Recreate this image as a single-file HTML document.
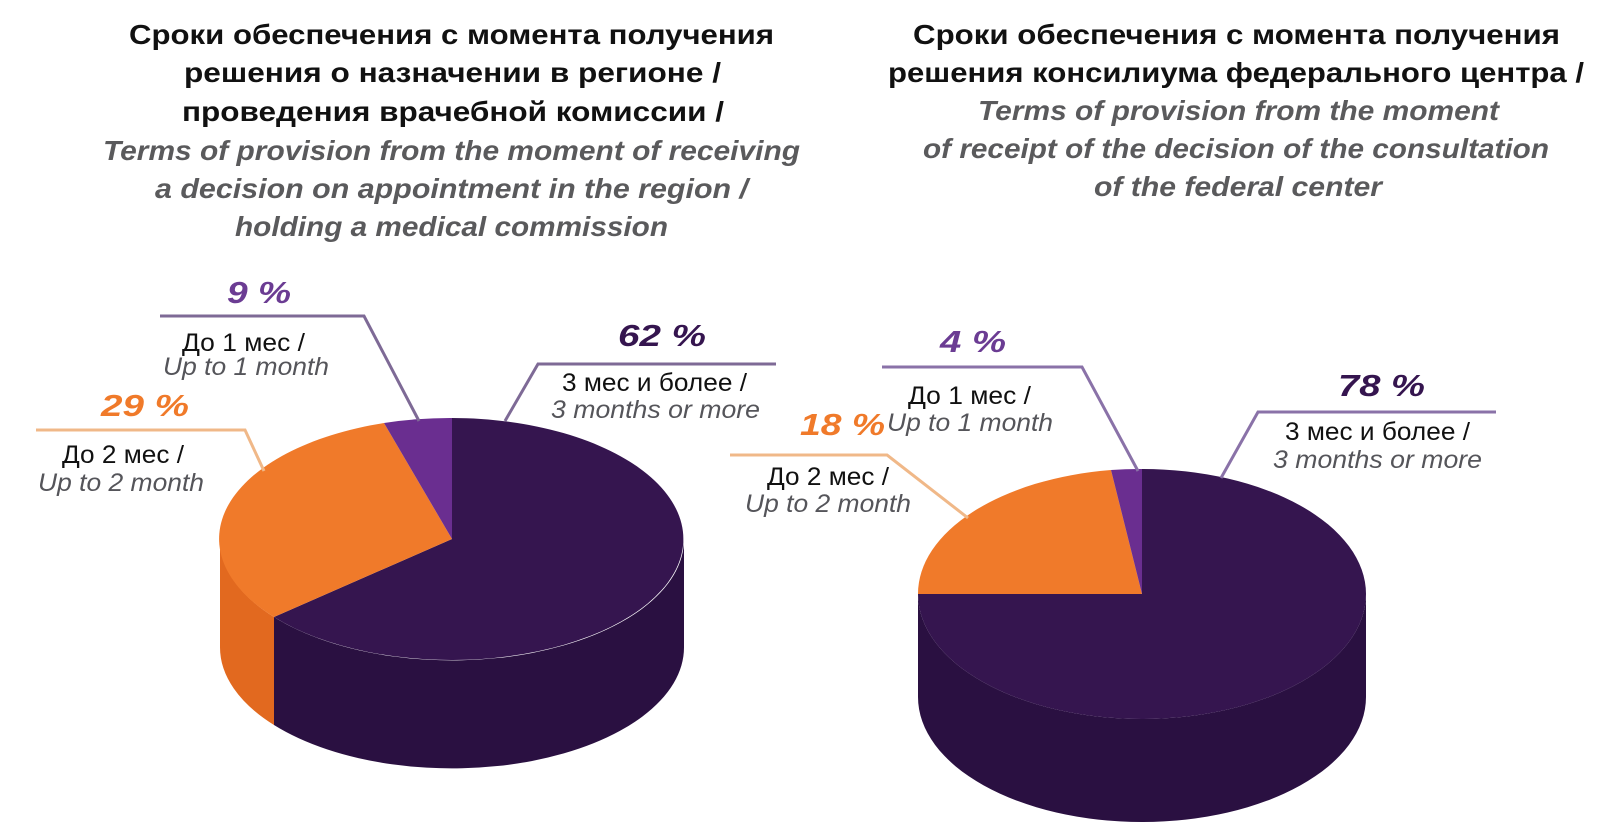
<!DOCTYPE html>
<html><head><meta charset="utf-8"><style>
html,body{margin:0;padding:0;background:#fff;}
svg{display:block;}
.t{font-family:"Liberation Sans","DejaVu Sans",sans-serif;font-weight:bold;font-size:28px;fill:#111;}
.e{font-family:"Liberation Sans","DejaVu Sans",sans-serif;font-weight:bold;font-style:italic;font-size:28px;fill:#5a5a5c;}
.l{font-family:"Liberation Sans","DejaVu Sans",sans-serif;font-size:25px;fill:#111;}
.li{font-family:"Liberation Sans","DejaVu Sans",sans-serif;font-style:italic;font-size:25px;fill:#55555a;}
.p{font-family:"Liberation Sans","DejaVu Sans",sans-serif;font-weight:bold;font-style:italic;font-size:31px;}
</style></head><body>
<svg width="1615" height="824" viewBox="0 0 1615 824" xmlns="http://www.w3.org/2000/svg">
<text class="t" x="129" y="44" textLength="645" lengthAdjust="spacingAndGlyphs">Сроки обеспечения с момента получения</text>
<text class="t" x="184" y="82" textLength="537" lengthAdjust="spacingAndGlyphs">решения о назначении в регионе /</text>
<text class="t" x="182" y="121" textLength="542" lengthAdjust="spacingAndGlyphs">проведения врачебной комиссии /</text>
<text class="e" x="103" y="160" textLength="697" lengthAdjust="spacingAndGlyphs">Terms of provision from the moment of receiving</text>
<text class="e" x="155" y="198" textLength="593" lengthAdjust="spacingAndGlyphs">a decision on appointment in the region /</text>
<text class="e" x="235" y="236" textLength="433" lengthAdjust="spacingAndGlyphs">holding a medical commission</text>
<text class="t" x="913" y="44" textLength="647" lengthAdjust="spacingAndGlyphs">Сроки обеспечения с момента получения</text>
<text class="t" x="888" y="82" textLength="696" lengthAdjust="spacingAndGlyphs">решения консилиума федерального центра /</text>
<text class="e" x="978" y="120" textLength="521" lengthAdjust="spacingAndGlyphs">Terms of provision from the moment</text>
<text class="e" x="923" y="158" textLength="626" lengthAdjust="spacingAndGlyphs">of receipt of the decision of the consultation</text>
<text class="e" x="1094" y="196" textLength="288" lengthAdjust="spacingAndGlyphs">of the federal center</text>

<!-- Left pie -->
<path d="M684,539 A232,121 0 0 1 274,617 L274,725 A232,121 0 0 0 684,647 Z" fill="#2a1041"/>
<path d="M274,617 A232,121 0 0 1 220,539 L220,647 A232,121 0 0 0 274,725 Z" fill="#e2691f"/>
<path d="M452,539 L452,418 A232,121 0 1 1 274,617 Z" fill="#35154f"/>
<path d="M452,539 L274,617 A232,121 0 0 1 384,423 Z" fill="#f07a2a"/>
<path d="M452,539 L384,423 A232,121 0 0 1 452,418 Z" fill="#6a2e90"/>

<!-- Right pie -->
<path d="M1366,594 A224,125 0 0 1 918,594 L918,697 A224,125 0 0 0 1366,697 Z" fill="#2a1041"/>
<path d="M1142,594 L1142,469 A224,125 0 1 1 918,594 Z" fill="#35154f"/>
<path d="M1142,594 L918,594 A224,125 0 0 1 1111,470 Z" fill="#f07a2a"/>
<path d="M1142,594 L1111,470 A224,125 0 0 1 1142,469 Z" fill="#6a2e90"/>

<!-- Left labels -->
<polyline points="160,316 364,316 419,421" fill="none" stroke="#7e6a96" stroke-width="3"/>
<text class="p" x="227" y="303" textLength="64" lengthAdjust="spacingAndGlyphs" fill="#6b3c93">9 %</text>
<text class="l" x="182" y="351" textLength="123" lengthAdjust="spacingAndGlyphs">До 1 мес /</text>
<text class="li" x="163" y="375" textLength="166" lengthAdjust="spacingAndGlyphs">Up to 1 month</text>

<polyline points="776,364 538,364 505,421" fill="none" stroke="#7e6a96" stroke-width="3"/>
<text class="p" x="618" y="346" textLength="88" lengthAdjust="spacingAndGlyphs" fill="#35154f">62 %</text>
<text class="l" x="562" y="391" textLength="185" lengthAdjust="spacingAndGlyphs">3 мес и более /</text>
<text class="li" x="551" y="418" textLength="209" lengthAdjust="spacingAndGlyphs">3 months or more</text>

<polyline points="36,430 245,430 264,471" fill="none" stroke="#f0b888" stroke-width="3"/>
<text class="p" x="101" y="416" textLength="88" lengthAdjust="spacingAndGlyphs" fill="#f07a2a">29 %</text>
<text class="l" x="62" y="463" textLength="122" lengthAdjust="spacingAndGlyphs">До 2 мес /</text>
<text class="li" x="38" y="491" textLength="166" lengthAdjust="spacingAndGlyphs">Up to 2 month</text>

<!-- Right labels -->
<polyline points="882,367 1082,367 1138,471" fill="none" stroke="#8a72a8" stroke-width="3"/>
<text class="p" x="940" y="352" textLength="66" lengthAdjust="spacingAndGlyphs" fill="#6b3c93">4 %</text>
<text class="l" x="908" y="404" textLength="123" lengthAdjust="spacingAndGlyphs">До 1 мес /</text>
<text class="li" x="887" y="431" textLength="166" lengthAdjust="spacingAndGlyphs">Up to 1 month</text>

<polyline points="730,455 887,455 968,518" fill="none" stroke="#f0b888" stroke-width="3"/>
<text class="p" x="800" y="435" textLength="85" lengthAdjust="spacingAndGlyphs" fill="#f07a2a">18 %</text>
<text class="l" x="767" y="485" textLength="122" lengthAdjust="spacingAndGlyphs">До 2 мес /</text>
<text class="li" x="745" y="512" textLength="166" lengthAdjust="spacingAndGlyphs">Up to 2 month</text>

<polyline points="1496,412 1258,412 1221,478" fill="none" stroke="#8a72a8" stroke-width="3"/>
<text class="p" x="1338" y="396" textLength="87" lengthAdjust="spacingAndGlyphs" fill="#35154f">78 %</text>
<text class="l" x="1285" y="440" textLength="185" lengthAdjust="spacingAndGlyphs">3 мес и более /</text>
<text class="li" x="1273" y="468" textLength="209" lengthAdjust="spacingAndGlyphs">3 months or more</text>
</svg>
</body></html>
